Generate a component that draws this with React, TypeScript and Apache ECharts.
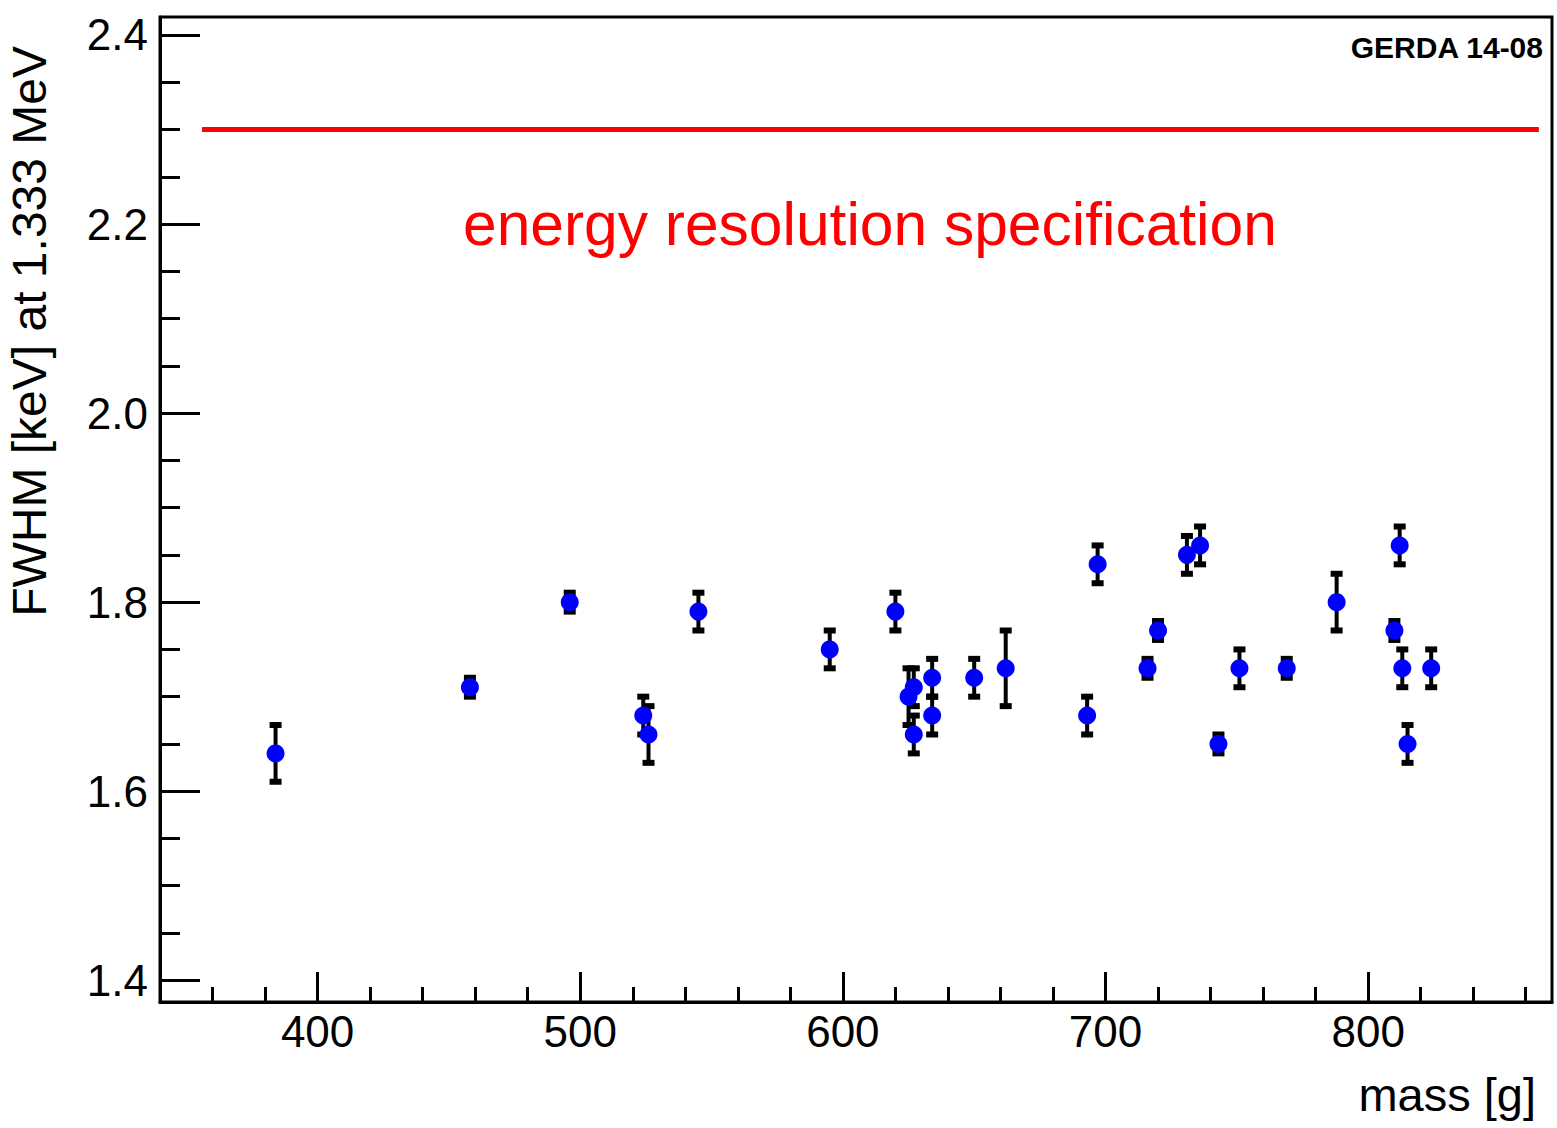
import React, { useEffect, useRef } from "react";
import * as echarts from "echarts";

const mass = [384, 458, 496, 524, 526, 545, 595, 620, 625, 627, 627, 634, 634, 650, 662, 693, 697, 716, 720, 731, 736, 743, 751, 769, 788, 810, 812, 813, 815, 824];
const fwhm = [1.64, 1.71, 1.8, 1.68, 1.66, 1.79, 1.75, 1.79, 1.7, 1.71, 1.66, 1.72, 1.68, 1.72, 1.73, 1.68, 1.84, 1.73, 1.77, 1.85, 1.86, 1.65, 1.73, 1.73, 1.8, 1.77, 1.86, 1.73, 1.65, 1.73];
const fwhmErr = [0.03, 0.01, 0.01, 0.02, 0.03, 0.02, 0.02, 0.02, 0.03, 0.02, 0.02, 0.02, 0.02, 0.02, 0.04, 0.02, 0.02, 0.01, 0.01, 0.02, 0.02, 0.01, 0.02, 0.01, 0.03, 0.01, 0.02, 0.02, 0.02, 0.02];

const specLine = [[356, 2.3], [865, 2.3]];
const xMajorTicks = [400, 500, 600, 700, 800];
const xMinorTicks = [360, 380, 420, 440, 460, 480, 520, 540, 560, 580, 620, 640, 660, 680, 720, 740, 760, 780, 820, 840, 860];
const yMajorTicks = [1.4, 1.6, 1.8, 2.0, 2.2, 2.4];
const yMinorTicks = [1.45, 1.5, 1.55, 1.65, 1.7, 1.75, 1.85, 1.9, 1.95, 2.05, 2.1, 2.15, 2.25, 2.3, 2.35];

const X_MIN = 340, X_MAX = 870, Y_MIN = 1.377, Y_MAX = 2.419;
const FONT = "'Liberation Sans', Arial, Helvetica, sans-serif";

export default function App() {
  const ref = useRef<HTMLDivElement>(null);
  useEffect(() => {
    if (!ref.current) return;
    const chart = echarts.init(ref.current, null, { renderer: "svg" });
    const common = { min: X_MIN, max: X_MAX, type: "value" as const, splitLine: { show: false } };
    const commonY = { min: Y_MIN, max: Y_MAX, type: "value" as const, splitLine: { show: false } };
    chart.setOption({
      animation: false,
      backgroundColor: "#fff",
      textStyle: { fontFamily: FONT },
      grid: {
        left: 160, right: 5, top: 17, bottom: 126,
        show: true, borderColor: "#000", borderWidth: 3,
        containLabel: false, outerBoundsMode: "none",
      },
      xAxis: [
        {
          ...common, position: "bottom",
          axisLine: { show: true, onZero: false, lineStyle: { color: "#000", width: 3 } },
          axisTick: { show: true, inside: true, length: 30, customValues: xMajorTicks, lineStyle: { color: "#000", width: 3 } },
          axisLabel: { show: true, customValues: xMajorTicks, fontSize: 44, color: "#000", margin: 7, fontFamily: FONT },
        },
        {
          ...common, position: "bottom", offset: 0,
          axisLine: { show: false },
          axisTick: { show: true, inside: true, length: 15, customValues: xMinorTicks, lineStyle: { color: "#000", width: 3 } },
          axisLabel: { show: false },
        },
      ],
      yAxis: [
        {
          ...commonY, position: "left",
          axisLine: { show: true, onZero: false, lineStyle: { color: "#000", width: 3 } },
          axisTick: { show: true, inside: true, length: 40, customValues: yMajorTicks, lineStyle: { color: "#000", width: 3 } },
          axisLabel: {
            show: true, customValues: yMajorTicks, fontSize: 44, color: "#000", margin: 12, fontFamily: FONT,
            formatter: (v: number) => v.toFixed(1),
          },
        },
        {
          ...commonY, position: "left", offset: 0,
          axisLine: { show: false },
          axisTick: { show: true, inside: true, length: 20, customValues: yMinorTicks, lineStyle: { color: "#000", width: 3 } },
          axisLabel: { show: false },
        },
      ],
      graphic: [
        {
          type: "text", x: 29, y: 46, rotation: Math.PI / 2,
          style: { text: "FWHM [keV] at 1.333 MeV", font: `48px ${FONT}`, fill: "#000", textAlign: "right", textVerticalAlign: "middle" },
        },
        {
          type: "text", x: 1536, y: 1094,
          style: { text: "mass [g]", font: `47px ${FONT}`, fill: "#000", textAlign: "right", textVerticalAlign: "middle" },
        },
        {
          type: "text", x: 463, y: 224,
          style: { text: "energy resolution specification", font: `60.5px ${FONT}`, fill: "#ff0000", textAlign: "left", textVerticalAlign: "middle" },
        },
        {
          type: "text", x: 1543, y: 47,
          style: { text: "GERDA 14-08", font: `bold 30px ${FONT}`, fill: "#000", textAlign: "right", textVerticalAlign: "middle" },
        },
      ],
      series: [
        {
          type: "line",
          xAxisIndex: 0, yAxisIndex: 0,
          data: specLine,
          symbol: "none",
          lineStyle: { color: "#ff0000", width: 5 },
          z: 2,
        },
        {
          type: "custom",
          xAxisIndex: 0, yAxisIndex: 0,
          data: mass.map((m, i) => [m, fwhm[i], fwhmErr[i]]),
          encode: { x: 0, y: 1 },
          z: 3,
          renderItem: (params: any, api: any) => {
            const x = api.value(0), y = api.value(1), e = api.value(2);
            const top = api.coord([x, y + e]);
            const bot = api.coord([x, y - e]);
            const hw = 6;
            return {
              type: "group",
              children: [
                { type: "line", shape: { x1: top[0], y1: top[1], x2: bot[0], y2: bot[1] }, style: { stroke: "#000", lineWidth: 4 } },
                { type: "rect", shape: { x: top[0] - hw, y: top[1] - 3, width: 2 * hw, height: 6 }, style: { fill: "#000" } },
                { type: "rect", shape: { x: bot[0] - hw, y: bot[1] - 3, width: 2 * hw, height: 6 }, style: { fill: "#000" } },
              ],
            };
          },
        },
        {
          type: "scatter",
          xAxisIndex: 0, yAxisIndex: 0,
          data: mass.map((m, i) => [m, fwhm[i]]),
          symbol: "circle",
          symbolSize: 18,
          itemStyle: { color: "#0000ff", opacity: 1 },
          z: 4,
        },
      ],
    });
    return () => chart.dispose();
  }, []);
  return <div ref={ref} style={{ position: "absolute", left: 0, top: 0, width: 1557, height: 1128 }} />;
}
